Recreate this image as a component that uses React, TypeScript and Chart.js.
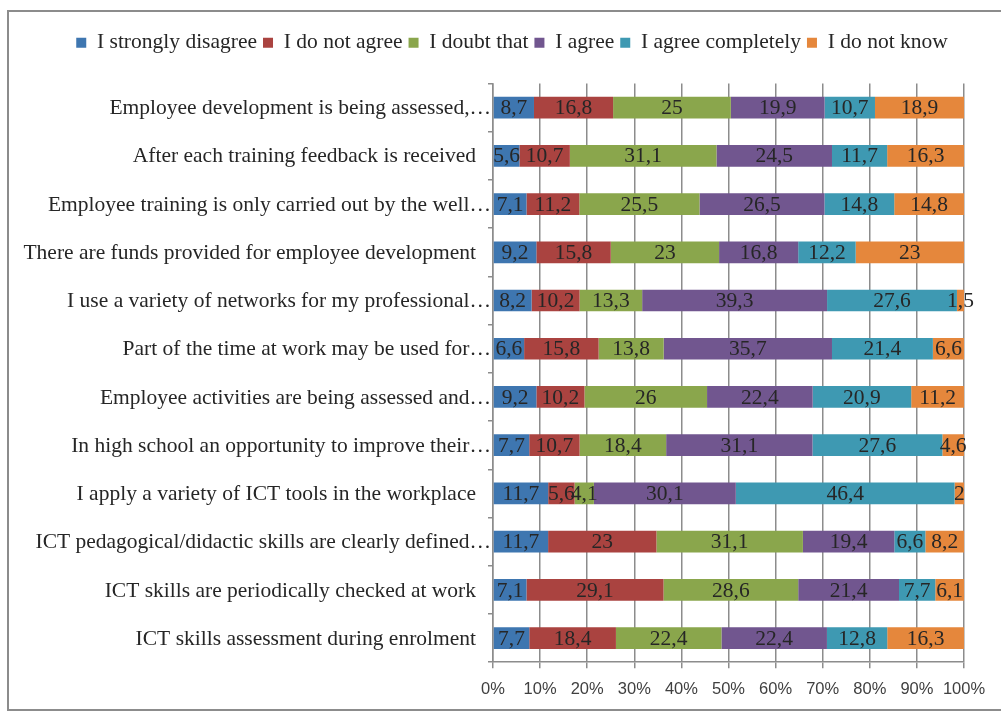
import React, { useEffect, useRef } from "react";
import { Chart, registerables } from "chart.js";
Chart.register(...registerables);

const categories = [
  "Employee development is being assessed,…",
  "After each training feedback is received",
  "Employee training is only carried out by the well…",
  "There are funds provided for employee development",
  "I use a variety of networks for my professional…",
  "Part of the time at work may be used for…",
  "Employee activities are being assessed and…",
  "In high school an opportunity to improve their…",
  "I apply a variety of ICT tools in the workplace",
  "ICT pedagogical/didactic skills are clearly defined…",
  "ICT skills are periodically checked at work",
  "ICT skills assessment during enrolment",
];

const seriesNames = [
  "I strongly disagree",
  "I do not agree",
  "I doubt that",
  "I agree",
  "I agree completely",
  "I do not know",
];

const stronglyDisagree = [8.7, 5.6, 7.1, 9.2, 8.2, 6.6, 9.2, 7.7, 11.7, 11.7, 7.1, 7.7];
const doNotAgree = [16.8, 10.7, 11.2, 15.8, 10.2, 15.8, 10.2, 10.7, 5.6, 23, 29.1, 18.4];
const doubtThat = [25, 31.1, 25.5, 23, 13.3, 13.8, 26, 18.4, 4.1, 31.1, 28.6, 22.4];
const agree = [19.9, 24.5, 26.5, 16.8, 39.3, 35.7, 22.4, 31.1, 30.1, 19.4, 21.4, 22.4];
const agreeCompletely = [10.7, 11.7, 14.8, 12.2, 27.6, 21.4, 20.9, 27.6, 46.4, 6.6, 7.7, 12.8];
const doNotKnow = [18.9, 16.3, 14.8, 23, 1.5, 6.6, 11.2, 4.6, 2, 8.2, 6.1, 16.3];

const xTickValues = [0, 10, 20, 30, 40, 50, 60, 70, 80, 90, 100];

const seriesValues = [stronglyDisagree, doNotAgree, doubtThat, agree, agreeCompletely, doNotKnow];
const seriesColors = ["#3E76B0", "#AA4340", "#8AA64C", "#71568F", "#3E99B2", "#E5873C"];

const SERIF = "'Liberation Serif', 'Times New Roman', serif";
const SANS = "'Liberation Sans', Arial, sans-serif";
const TEXT_SIZE = 21.5;

export default function App() {
  const ref = useRef<HTMLCanvasElement>(null);

  useEffect(() => {
    if (!ref.current) return;
    const totals = categories.map((_, i) =>
      seriesValues.reduce((s, arr) => s + arr[i], 0)
    );

    const legendSpace = {
      id: "legendSpace",
      beforeLayout(chart: any) {
        const legend = chart.legend;
        if (!legend || legend.__patched) return;
        legend.__patched = true;
        const orig = legend.fit;
        legend.fit = function () {
          orig.call(this);
          this.height += 20;
        };
      },
    };

    const dataLabels = {
      id: "dataLabels",
      afterDatasetsDraw(chart: any) {
        const ctx = chart.ctx;
        ctx.save();
        ctx.font = `${TEXT_SIZE}px ${SERIF}`;
        ctx.fillStyle = "#262626";
        ctx.textAlign = "center";
        ctx.textBaseline = "middle";
        chart.data.datasets.forEach((ds: any, di: number) => {
          const meta = chart.getDatasetMeta(di);
          meta.data.forEach((el: any, i: number) => {
            const raw = seriesValues[di][i];
            const cx = (el.x + el.base) / 2;
            ctx.fillText(String(raw).replace(".", ","), cx, el.y + 1);
          });
        });
        ctx.restore();
      },
    };

    const yLabels = {
      id: "yLabels",
      afterDraw(chart: any) {
        const ctx = chart.ctx;
        const y = chart.scales.y;
        ctx.save();
        ctx.font = `${TEXT_SIZE}px ${SERIF}`;
        ctx.fillStyle = "#262626";
        ctx.textAlign = "right";
        ctx.textBaseline = "middle";
        categories.forEach((c, i) => {
          const py = y.getPixelForValue(i);
          const x = c.endsWith("…") ? y.right - 2 : y.right - 17;
          ctx.fillText(c, x, py + 1);
        });
        ctx.restore();
      },
    };

    const chart = new Chart(ref.current, {
      type: "bar",
      data: {
        labels: categories,
        datasets: seriesNames.map((name, si) => ({
          label: name,
          data: seriesValues[si].map((v, i) => (v / totals[i]) * 100),
          backgroundColor: seriesColors[si],
          borderWidth: 0,
          categoryPercentage: 0.45,
          barPercentage: 1,
        })),
      },
      options: {
        indexAxis: "y",
        animation: false,
        responsive: false,
        layout: { padding: { top: 26, left: 60, right: 37, bottom: 2 } },
        plugins: {
          tooltip: { enabled: false },
          legend: {
            position: "top",
            labels: {
              font: { family: SERIF, size: TEXT_SIZE },
              color: "#262626",
              boxWidth: 10,
              boxHeight: 10,
              padding: 6,
            },
          },
        },
        scales: {
          x: {
            stacked: true,
            min: 0,
            max: 100,
            afterBuildTicks: (s: any) => {
              s.ticks = xTickValues.map((v) => ({ value: v }));
            },
            ticks: {
              callback: (v: any) => `${v}%`,
              font: { family: SANS, size: 16.5 },
              color: "#404040",
              padding: 11,
              maxRotation: 0,
            },
            grid: { color: "#8c8c8c", lineWidth: 1.5, tickLength: 6 },
            border: { color: "#8c8c8c", width: 1.5 },
          },
          y: {
            stacked: true,
            afterFit: (s: any) => {
              s.width = 433;
            },
            ticks: { display: false },
            grid: {
              offset: true,
              drawOnChartArea: false,
              color: "#8c8c8c",
              lineWidth: 1.5,
              tickLength: 5,
            },
            border: { color: "#8c8c8c", width: 1.5 },
          },
        },
      },
      plugins: [legendSpace, dataLabels, yLabels],
    } as any);
    return () => chart.destroy();
  }, []);

  return (
    <div style={{ position: "fixed", left: 0, top: 0, width: 1001, height: 712, background: "#fff", overflow: "hidden" }}>
      <div
        style={{
          position: "absolute",
          left: 7,
          top: 10,
          width: 1010,
          height: 697,
          border: "2px solid #8c8c8c",
        }}
      />
      <canvas
        ref={ref}
        width={1001}
        height={712}
        style={{ position: "absolute", left: 0, top: 0, width: 1001, height: 712 }}
      />
    </div>
  );
}
